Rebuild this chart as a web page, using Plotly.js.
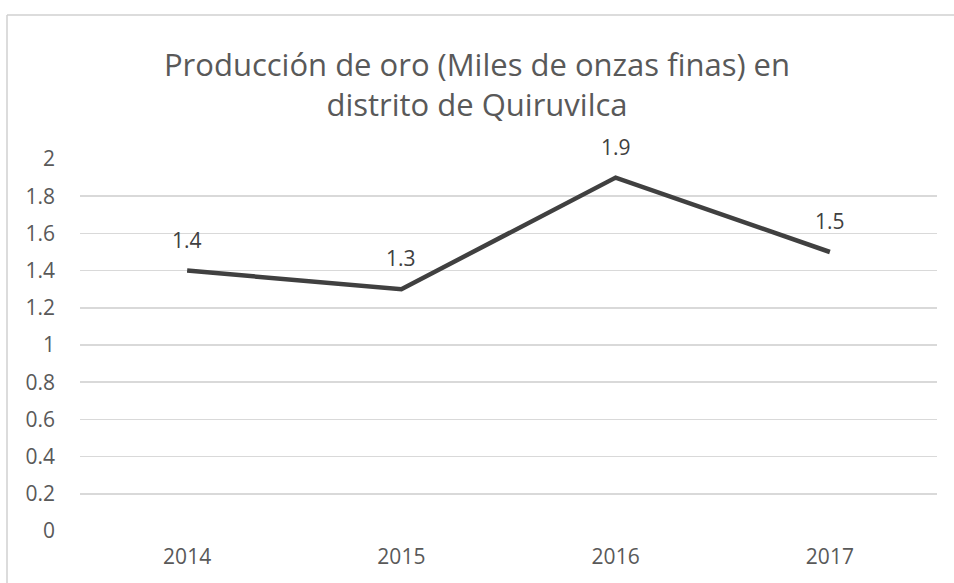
<!DOCTYPE html>
<html>
<head>
<meta charset="utf-8">
<script src="https://cdn.plot.ly/plotly-3.0.1.min.js"></script>
<style>html,body{margin:0;padding:0;background:#fff;}#chart{width:954px;height:583px;}</style>
</head>
<body>
<div id="chart"></div>
<script>
const years = ["2014", "2015", "2016", "2017"];
const production = [1.4, 1.3, 1.9, 1.5];
const yTicks = [0, 0.2, 0.4, 0.6, 0.8, 1, 1.2, 1.4, 1.6, 1.8, 2];
const yTickLabels = ["0", "0.2", "0.4", "0.6", "0.8", "1", "1.2", "1.4", "1.6", "1.8", "2"];
const titleLine1 = "Producción de oro (Miles de onzas finas) en";
const titleLine2 = "distrito de Quiruvilca";

const fontFam = "'Open Sans', sans-serif";

const trace = {
  x: years,
  y: production,
  type: "scatter",
  mode: "lines",
  line: {color: "#404040", width: 4.5},
  hoverinfo: "skip"
};

const labelAnn = years.map((yr, i) => ({
  x: i, y: production[i], xref: "x", yref: "y",
  text: String(production[i]), showarrow: false,
  yshift: 31, font: {family: fontFam, size: 21, color: "#404040"}
}));

const layout = {
  width: 954, height: 583,
  margin: {l: 80, r: 17, t: 159, b: 52},
  paper_bgcolor: "#ffffff", plot_bgcolor: "#ffffff",
  showlegend: false,
  title: {
    text: titleLine1 + "<br>" + titleLine2,
    font: {family: fontFam, size: 31, color: "#595959"},
    x: 0.5, xref: "container", xanchor: "center",
    y: 0.87, yref: "container", yanchor: "middle"
  },
  xaxis: {
    type: "category", range: [-0.5, 3.5],
    showgrid: false, zeroline: false, showline: false, ticks: "",
    tickfont: {family: fontFam, size: 21, color: "#595959"},
    ticklabelstandoff: 11, fixedrange: true
  },
  yaxis: {
    range: [0, 2], tickvals: yTicks, ticktext: yTickLabels,
    showgrid: true, gridcolor: "#d9d9d9", gridwidth: 1.5,
    zeroline: false, showline: false, ticks: "",
    tickfont: {family: fontFam, size: 21, color: "#595959"},
    ticklabelstandoff: 24, fixedrange: true
  },
  annotations: labelAnn,
  shapes: [
    {type: "line", xref: "paper", yref: "paper",
     x0: (7 - 80) / 857, x1: (7 - 80) / 857, y0: -60 / 372, y1: (531 - 15) / 372,
     line: {color: "#d0d0d0", width: 1.5}},
    {type: "line", xref: "paper", yref: "paper",
     x0: (7 - 80) / 857, x1: 1.1, y0: (531 - 15) / 372, y1: (531 - 15) / 372,
     line: {color: "#d0d0d0", width: 1.5}}
  ]
};

Plotly.newPlot("chart", [trace], layout, {displayModeBar: false, staticPlot: true});
</script>
</body>
</html>
